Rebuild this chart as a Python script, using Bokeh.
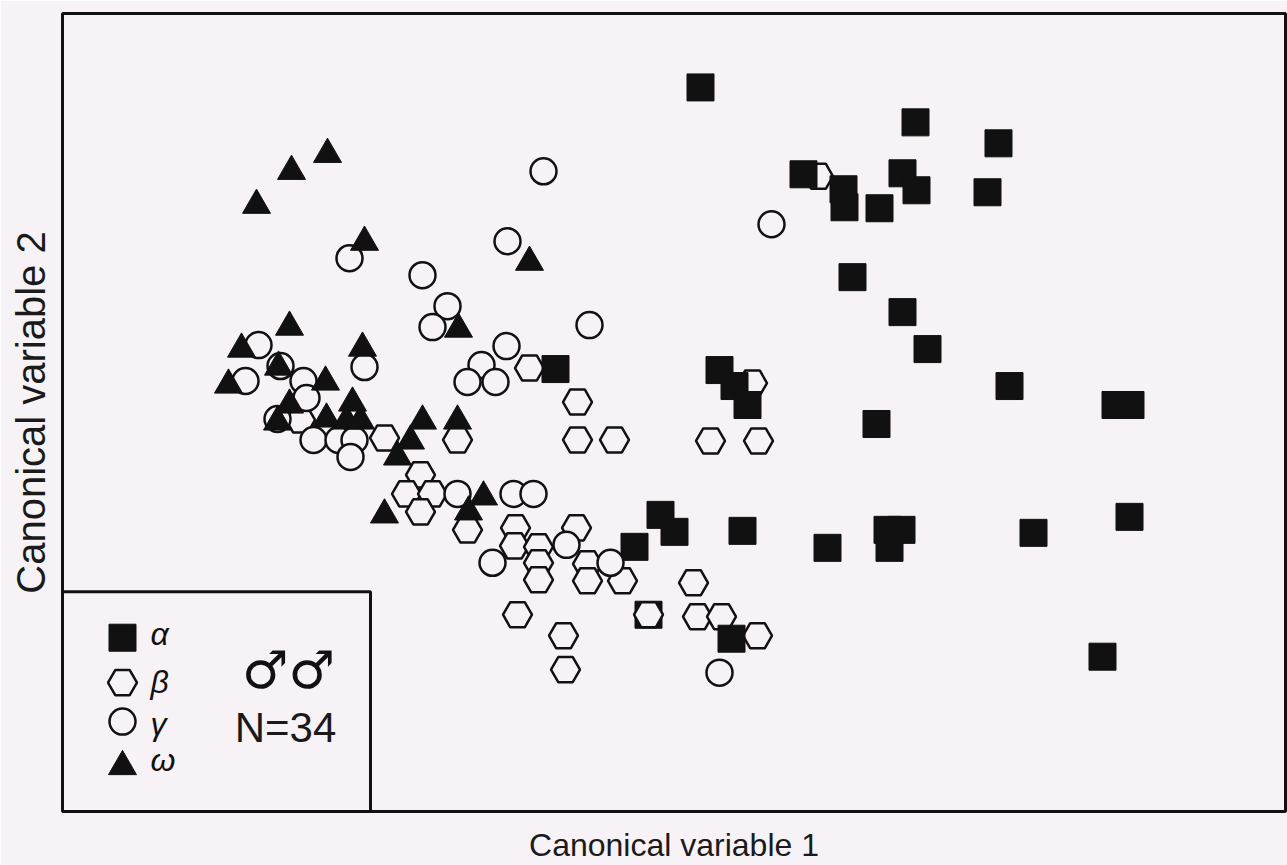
from bokeh.plotting import figure
from bokeh.models import Range1d, FixedTicker, BoxAnnotation, Label, ColumnDataSource, CDSView, IndexFilter
from bokeh.embed import file_html
from bokeh.resources import INLINE

# ---- data (canonical scores in picture units) ----
alpha_x = [700, 915, 998, 803, 843, 844, 902, 916, 879, 987, 852, 902, 927, 1009, 876, 719, 734,
           747, 555, 1115, 1130, 887, 901, 889, 827, 1033, 1129, 1102, 660, 674, 634, 742, 648, 731]
alpha_y = [87, 122, 143, 174, 189, 207, 173, 190, 208, 192, 277, 312, 349, 386, 424, 370, 386,
           405, 369, 405, 405, 530, 530, 548, 548, 533, 517, 657, 515, 532, 547, 531, 615, 639]

beta_x = [818, 752, 710, 758, 529, 577, 577, 614, 457, 384, 300, 420, 406, 432, 420, 467, 515,
          514, 538, 538, 538, 576, 587, 587, 622, 693, 517, 563, 565, 648, 697, 721, 757]
beta_y = [176, 383, 441, 441, 368, 402, 440, 440, 440, 438, 420, 475, 494, 494, 512, 530, 528,
          546, 547, 563, 580, 528, 564, 581, 581, 583, 615, 636, 670, 615, 617, 617, 636]

gamma_x = [543, 771, 349, 507, 422, 447, 432, 589, 506, 481, 467, 495, 258, 364, 280, 245, 303,
           306, 277, 313, 338, 354, 350, 457, 513, 533, 492, 566, 610, 719]
gamma_y = [171, 224, 258, 241, 275, 306, 327, 325, 346, 365, 382, 382, 345, 367, 366, 381, 381,
           398, 419, 440, 440, 440, 457, 494, 494, 494, 563, 545, 563, 673]

omega_x = [327, 291, 256, 364, 529, 289, 458, 241, 362, 228, 278, 325, 289, 352, 346, 360, 326,
           277, 422, 457, 410, 397, 384, 483, 468]
omega_y = [154, 171, 205, 242, 262, 327, 329, 349, 348, 385, 367, 382, 405, 403, 421, 421, 419,
           422, 421, 421, 441, 457, 515, 497, 512]

group_labels = ["α", "β", "γ", "ω"]
sex_label = "♂♂"
n_label = "N=34"
x_title = "Canonical variable 1"
y_title = "Canonical variable 2"

# ---- styling / layout ----
BG = "#f7f2f5"
INK = "#111111"

p = figure(width=1287, height=865,
           x_range=Range1d(62, 1285), y_range=Range1d(812, 13),
           output_backend="svg", toolbar_location=None,
           min_border_left=62, min_border_right=2, min_border_top=13, min_border_bottom=53)
p.grid.visible = False
p.background_fill_color = BG
p.border_fill_color = BG
p.outline_line_color = INK
p.outline_line_width = 3

for ax in (p.xaxis[0], p.yaxis[0]):
    ax.ticker = FixedTicker(ticks=[])
    ax.major_tick_line_color = None
    ax.minor_tick_line_color = None
    ax.axis_line_color = None
    ax.major_label_text_font_size = "0px"
    ax.major_label_standoff = 0
    ax.major_tick_out = 0
    ax.minor_tick_out = 0
    ax.axis_label_text_font = "Liberation Sans"
    ax.axis_label_text_font_style = "normal"
    ax.axis_label_text_color = "#1a1a1a"

p.xaxis.axis_label = x_title
p.xaxis.axis_label_text_font_size = "32px"
p.xaxis.axis_label_standoff = 15
p.yaxis.axis_label = y_title
p.yaxis.axis_label_text_font_size = "40px"
p.yaxis.axis_label_standoff = 10

SQ, HX, CI, TR = 27, 29, 26, 28
LW = 2.5

# hexagons: those lying on an alpha square are drawn on top of it
src_b = ColumnDataSource(dict(x=beta_x, y=beta_y))
on_sq = [i for i, (bx, by) in enumerate(zip(beta_x, beta_y))
         if any(abs(bx - ax_) < 6 and abs(by - ay_) < 6 for ax_, ay_ in zip(alpha_x, alpha_y))]
under = [i for i in range(len(beta_x)) if i not in on_sq]

p.scatter("x", "y", source=src_b, view=CDSView(filter=IndexFilter(under)), marker="hex",
          size=HX, fill_color=BG, line_color=INK, line_width=LW)
p.scatter(alpha_x, alpha_y, marker="square", size=SQ, fill_color=INK, line_color=INK, line_width=1)
p.scatter("x", "y", source=src_b, view=CDSView(filter=IndexFilter(on_sq)), marker="hex",
          size=HX, fill_color=BG, line_color=INK, line_width=LW)
p.scatter(gamma_x, gamma_y, marker="circle", size=CI, fill_color=BG, line_color=INK, line_width=LW)
p.scatter(omega_x, omega_y, marker="triangle", size=TR, fill_color=INK, line_color=INK, line_width=1)

# ---- legend box (layout in picture units) ----
p.add_layout(BoxAnnotation(left=62, right=370, top=592, bottom=812,
                           fill_alpha=0, line_color=INK, line_alpha=1.0, line_width=3))
LX = 122
LY = [638, 683, 722, 767]
p.scatter([LX], [LY[0]], marker="square", size=SQ, fill_color=INK, line_color=INK)
p.scatter([LX], [LY[1]], marker="hex", size=HX, fill_color=BG, line_color=INK, line_width=LW)
p.scatter([LX], [LY[2]], marker="circle", size=CI, fill_color=BG, line_color=INK, line_width=LW)
p.scatter([LX], [LY[3]], marker="triangle", size=TR, fill_color=INK, line_color=INK)
text_y = [634, 682, 724, 760]
for lab, ty in zip(group_labels, text_y):
    p.add_layout(Label(x=150, y=ty, text=lab, text_font="Liberation Sans",
                       text_font_style="italic", text_font_size="32px",
                       text_baseline="middle", text_align="left", text_color=INK))
p.add_layout(Label(x=288, y=670, text=sex_label, text_font="DejaVu Sans",
                   text_font_size="52px", text_baseline="middle", text_align="center",
                   text_color=INK))
p.add_layout(Label(x=285, y=728, text=n_label, text_font="Liberation Sans",
                   text_font_size="42px", text_baseline="middle", text_align="center",
                   text_color="#1a1a1a"))

html = file_html(p, INLINE)
html = html.replace("<body>", '<body style="margin:0;overflow:hidden;background-color:%s;">' % BG, 1)
open("out.html", "w").write(html)
